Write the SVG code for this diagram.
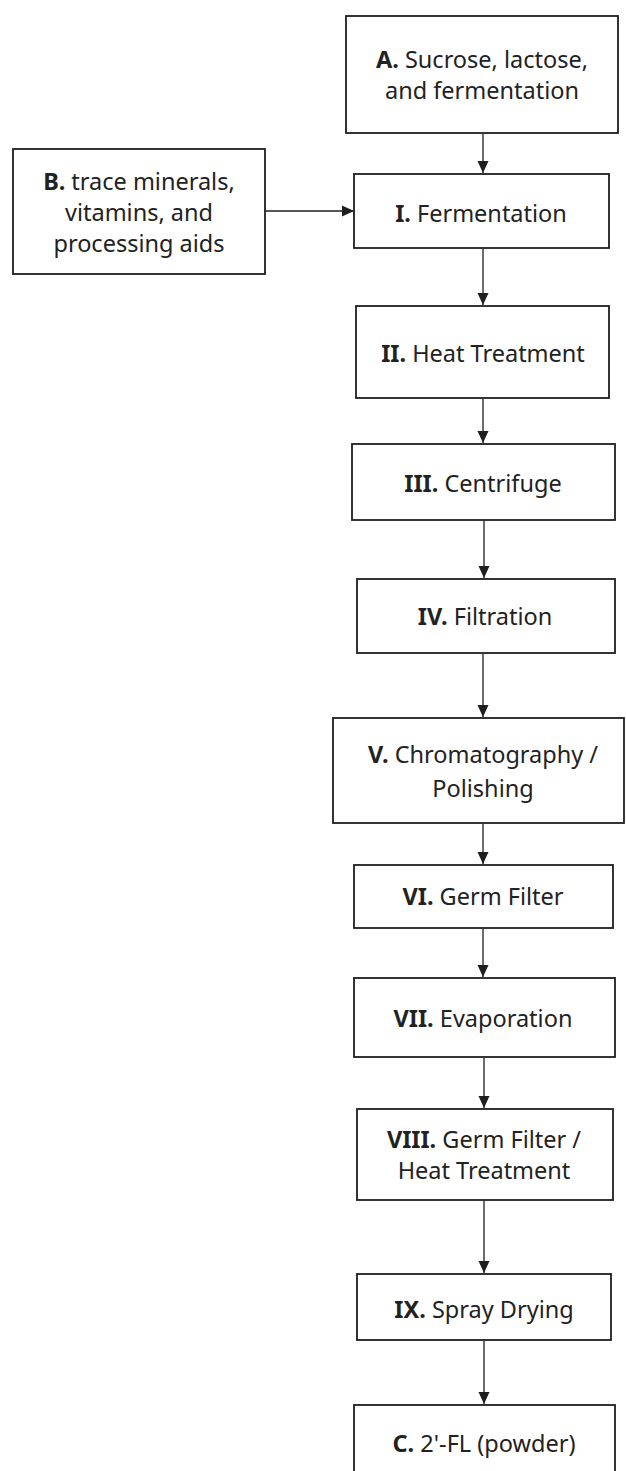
<svg xmlns="http://www.w3.org/2000/svg" width="626" height="1471" viewBox="0 0 626 1471">
<defs>
<style>
.box{fill:#fff;stroke:#1e1e1e;stroke-width:1.8}
.t{font-family:"Noto Sans","Open Sans",sans-serif;font-size:23.5px;fill:#222;text-anchor:middle}
.b{font-weight:bold}
.c{stroke:#1e1e1e;stroke-width:1.3;fill:none}
</style>
<marker id="ah" viewBox="0 0 12 12" refX="12" refY="6" markerWidth="12" markerHeight="12" markerUnits="userSpaceOnUse" orient="auto">
<path d="M0,0.5 L12,6 L0,11.5 Z" fill="#1e1e1e"/>
</marker>
</defs>
<rect width="626" height="1471" fill="#fff"/>
<g id="connectors">
<line class="c" x1="483" y1="134" x2="483" y2="173" marker-end="url(#ah)"/>
<line class="c" x1="265" y1="211" x2="354" y2="211" marker-end="url(#ah)"/>
<line class="c" x1="483" y1="249" x2="483" y2="305" marker-end="url(#ah)"/>
<line class="c" x1="483" y1="399" x2="483" y2="443" marker-end="url(#ah)"/>
<line class="c" x1="484" y1="521" x2="484" y2="578" marker-end="url(#ah)"/>
<line class="c" x1="483" y1="654" x2="483" y2="717" marker-end="url(#ah)"/>
<line class="c" x1="483" y1="824" x2="483" y2="864" marker-end="url(#ah)"/>
<line class="c" x1="483" y1="929" x2="483" y2="977" marker-end="url(#ah)"/>
<line class="c" x1="484" y1="1058" x2="484" y2="1108" marker-end="url(#ah)"/>
<line class="c" x1="484" y1="1201" x2="484" y2="1273" marker-end="url(#ah)"/>
<line class="c" x1="484" y1="1341" x2="484" y2="1404" marker-end="url(#ah)"/>
</g>
<g id="nodeA">
<rect class="box" x="346" y="16" width="272" height="117"/>
<text class="t" x="482" y="68"><tspan class="b">A.</tspan> Sucrose, lactose,</text>
<text class="t" x="482" y="99">and fermentation</text>
</g>
<g id="nodeB">
<rect class="box" x="13" y="149" width="252" height="125"/>
<text class="t" x="139" y="190"><tspan class="b">B.</tspan> trace minerals,</text>
<text class="t" x="139" y="221">vitamins, and</text>
<text class="t" x="139" y="252">processing aids</text>
</g>
<g id="nodeI">
<rect class="box" x="354" y="174" width="255" height="74"/>
<text class="t" x="481" y="222"><tspan class="b">I.</tspan> Fermentation</text>
</g>
<g id="nodeII">
<rect class="box" x="356" y="306" width="253" height="92"/>
<text class="t" x="483" y="362"><tspan class="b">II.</tspan> Heat Treatment</text>
</g>
<g id="nodeIII">
<rect class="box" x="352" y="444" width="263" height="76"/>
<text class="t" x="483" y="492"><tspan class="b">III.</tspan> Centrifuge</text>
</g>
<g id="nodeIV">
<rect class="box" x="357" y="579" width="258" height="74"/>
<text class="t" x="485" y="625"><tspan class="b">IV.</tspan> Filtration</text>
</g>
<g id="nodeV">
<rect class="box" x="333" y="718" width="291" height="105"/>
<text class="t" x="483" y="763"><tspan class="b">V.</tspan> Chromatography /</text>
<text class="t" x="483" y="797">Polishing</text>
</g>
<g id="nodeVI">
<rect class="box" x="354" y="865" width="259" height="63"/>
<text class="t" x="483" y="905"><tspan class="b">VI.</tspan> Germ Filter</text>
</g>
<g id="nodeVII">
<rect class="box" x="354" y="978" width="261" height="79"/>
<text class="t" x="483" y="1027"><tspan class="b">VII.</tspan> Evaporation</text>
</g>
<g id="nodeVIII">
<rect class="box" x="357" y="1109" width="256" height="91"/>
<text class="t" x="484" y="1148"><tspan class="b">VIII.</tspan> Germ Filter /</text>
<text class="t" x="484" y="1179">Heat Treatment</text>
</g>
<g id="nodeIX">
<rect class="box" x="357" y="1274" width="254" height="66"/>
<text class="t" x="484" y="1318"><tspan class="b">IX.</tspan> Spray Drying</text>
</g>
<g id="nodeC">
<rect class="box" x="354" y="1405" width="261" height="90"/>
<text class="t" x="484" y="1452"><tspan class="b">C.</tspan> 2'-FL (powder)</text>
</g>
</svg>
